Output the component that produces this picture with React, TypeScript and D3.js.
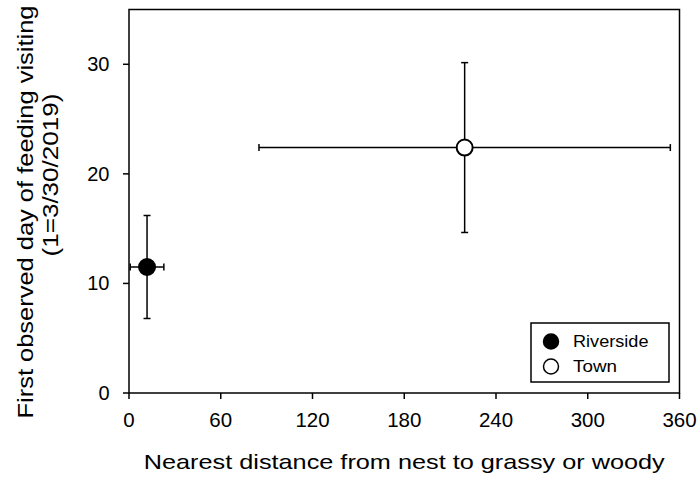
import React from "react";
import * as d3 from "d3";

const groups = ["Riverside", "Town"];
const xMean = [11.8, 219.5];
const xErr = [11, 134.5];
const yMean = [11.5, 22.4];
const yErr = [4.7, 7.75];
const fills = ["#000000", "#ffffff"];
const xTicks = [0, 60, 120, 180, 240, 300, 360];
const yTicks = [0, 10, 20, 30];

const W = 700, H = 481;
const L = 129, R = 679.5, T = 9.5, B = 393;

export default function App() {
  const x = d3.scaleLinear().domain([0, 360]).range([L, R]);
  const y = d3.scaleLinear().domain([0, 35]).range([B, T]);
  const font = "'Liberation Sans', Arial, sans-serif";
  const cap = 3.5;
  const legendLen = [75.5, 44];
  return (
    <svg width={W} height={H} style={{ position: "absolute", left: 0, top: 0 }} fontFamily={font}>
      <rect x={0} y={0} width={W} height={H} fill="#fff" />
      <rect x={L} y={T} width={R - L} height={B - T} fill="none" stroke="#000" strokeWidth={1.5} />
      {xTicks.map((t) => (
        <g key={"x" + t}>
          <line x1={x(t)} x2={x(t)} y1={B} y2={B + 6} stroke="#000" strokeWidth={1.5} />
          <text x={x(t)} y={427} textAnchor="middle" fontSize={20.5} fill="#000">{t}</text>
        </g>
      ))}
      {yTicks.map((t) => (
        <g key={"y" + t}>
          <line x1={L - 6} x2={L} y1={y(t)} y2={y(t)} stroke="#000" strokeWidth={1.5} />
          <text x={109.5} y={y(t) + 7} textAnchor="end" fontSize={20} fill="#000">{t}</text>
        </g>
      ))}
      {groups.map((g, i) => {
        const cx = x(xMean[i]), cy = y(yMean[i]);
        const x0 = x(xMean[i] - xErr[i]), x1 = x(xMean[i] + xErr[i]);
        const y0 = y(yMean[i] - yErr[i]), y1 = y(yMean[i] + yErr[i]);
        return (
          <g key={g} stroke="#000" strokeWidth={1.5}>
            <line x1={x0} x2={x1} y1={cy} y2={cy} />
            <line x1={x0} x2={x0} y1={cy - cap} y2={cy + cap} />
            <line x1={x1} x2={x1} y1={cy - cap} y2={cy + cap} />
            <line x1={cx} x2={cx} y1={y0} y2={y1} />
            <line x1={cx - cap} x2={cx + cap} y1={y0} y2={y0} />
            <line x1={cx - cap} x2={cx + cap} y1={y1} y2={y1} />
            <circle cx={cx} cy={cy} r={8} fill={fills[i]} strokeWidth={2} />
          </g>
        );
      })}
      <rect x={531} y={323} width={138} height={59} fill="#fff" stroke="#000" strokeWidth={1.5} />
      {groups.map((g, i) => (
        <g key={"lg" + g}>
          <circle cx={551} cy={341.5 + i * 25} r={7.5} fill={fills[i]} stroke="#000" strokeWidth={1.5} />
          <text x={573} y={346.8 + i * 25.5} fontSize={16.5} fill="#000" textLength={legendLen[i]} lengthAdjust="spacingAndGlyphs">{g}</text>
        </g>
      ))}
      <text x={(L + R) / 2} y={469} textAnchor="middle" fontSize={21} fill="#000" textLength={521} lengthAdjust="spacingAndGlyphs">
        Nearest distance from nest to grassy or woody
      </text>
      <text transform={`translate(32.5,212) rotate(-90)`} textAnchor="middle" fontSize={21.5} fill="#000" textLength={413} lengthAdjust="spacingAndGlyphs">
        First observed day of feeding visiting
      </text>
      <text transform={`translate(58,175) rotate(-90)`} textAnchor="middle" fontSize={21.5} fill="#000" textLength={163} lengthAdjust="spacingAndGlyphs">
        (1=3/30/2019)
      </text>
    </svg>
  );
}
